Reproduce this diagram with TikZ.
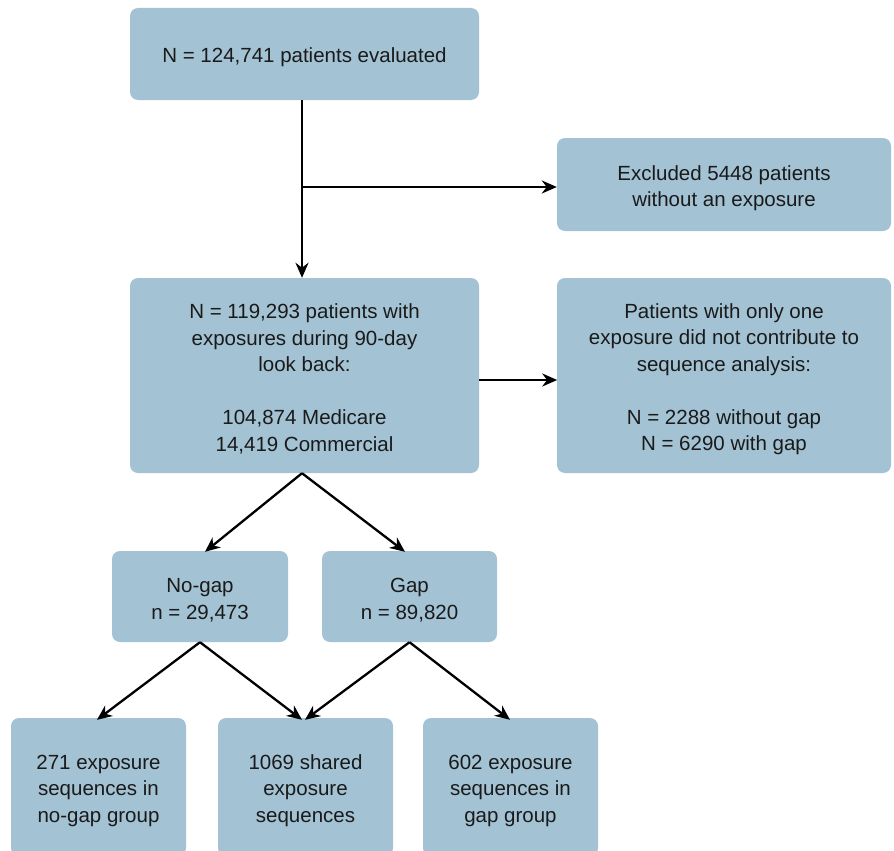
\documentclass[tikz,border=0pt]{standalone}
\usepackage{fontspec}
\setmainfont{Liberation Sans}
\usetikzlibrary{arrows.meta}
\definecolor{boxblue}{HTML}{A3C3D4}
\definecolor{txt}{HTML}{1A1A1A}
\newcommand\tstrut{\rule{0pt}{22pt}}
\tikzset{
  box/.style={rectangle, rounded corners=8pt, fill=boxblue, draw=none, inner sep=0pt,
    align=center, text=txt, font={\fontsize{20.5}{26.5}\selectfont}},
  arr/.style={line width=2.3pt, -{Stealth[length=15pt,width=13pt]}},
}
\begin{document}
\begin{tikzpicture}[x=1pt,y=-1pt]
\useasboundingbox (0,0) rectangle (894,851);
\clip (0,0) rectangle (894,851);
\node[box, minimum width=349pt, minimum height=92pt] (top) at (304.5,54) {\tstrut N = 124,741 patients evaluated};
\node[box, minimum width=334pt, minimum height=93pt] (excl) at (724,184.5) {\tstrut Excluded 5448 patients\\without an exposure};
\node[box, minimum width=349pt, minimum height=195pt] (mid) at (304.5,375.5) {\tstrut N = 119,293 patients with\\exposures during 90-day\\look back:\\~\\104,874 Medicare\\14,419 Commercial};
\node[box, minimum width=334pt, minimum height=195pt] (only) at (724,375.5) {\tstrut Patients with only one\\exposure did not contribute to\\sequence analysis:\\~\\N = 2288 without gap\\N = 6290 with gap};
\node[box, minimum width=176pt, minimum height=91pt] (nogap) at (200,596.5) {\tstrut No-gap\\n = 29,473};
\node[box, minimum width=175pt, minimum height=91pt] (gap) at (409.5,596.5) {\tstrut Gap\\n = 89,820};
\node[box, minimum width=175pt, minimum height=138pt] (seqA) at (98.5,787) {\tstrut 271 exposure\\sequences in\\no-gap group};
\node[box, minimum width=175pt, minimum height=138pt] (seqB) at (305.5,787) {\tstrut 1069 shared\\exposure\\sequences};
\node[box, minimum width=175pt, minimum height=138pt] (seqC) at (510.5,787) {\tstrut 602 exposure\\sequences in\\gap group};
\coordinate (split) at (302,187);
\draw[arr] ([xshift=-2.5pt]top.south) -- ([xshift=-2.5pt]mid.north);
\draw[arr] (split) -- (split -| excl.west);
\draw[arr] (mid.east |- only.center) ++(0,4.5) -- ++(78,0);
\draw[arr] ([xshift=-2.5pt]mid.south) -- ([xshift=5pt,yshift=-1pt]nogap.north);
\draw[arr] ([xshift=-2.5pt]mid.south) -- ([xshift=-4.5pt,yshift=-1pt]gap.north);
\draw[arr] (nogap.south) -- ([xshift=-1.5pt,yshift=-2pt]seqA.north);
\draw[arr] (nogap.south) -- ([xshift=-3.5pt,yshift=-2pt]seqB.north);
\draw[arr] (gap.south) -- ([xshift=-0.5pt,yshift=-2pt]seqB.north);
\draw[arr] (gap.south) -- ([xshift=-0.5pt,yshift=-2pt]seqC.north);
\end{tikzpicture}
\end{document}
